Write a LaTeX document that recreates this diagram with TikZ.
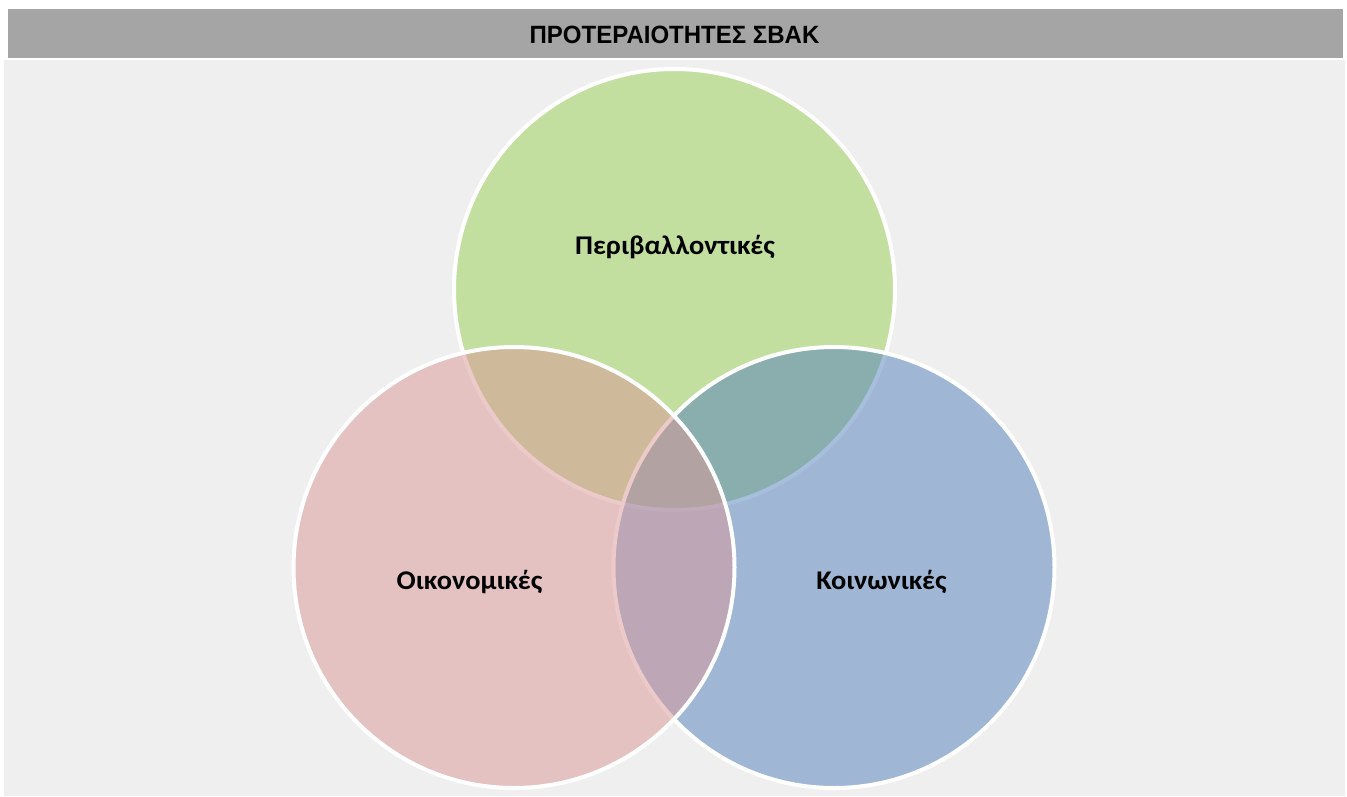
\documentclass[tikz,border=0pt]{standalone}
\usepackage{fontspec}
\setmainfont{Carlito}
\newfontfamily\lblfont[FakeStretch=1.05]{Carlito}
\newfontfamily\narrowfont[FakeStretch=0.96]{Liberation Sans}
\definecolor{hdr}{HTML}{A5A5A5}
\definecolor{bgc}{HTML}{EFEFEF}
\definecolor{cgreen}{RGB}{151,209,81}
\definecolor{cred}{RGB}{219,151,151}
\definecolor{cblue}{RGB}{81,127,187}
\begin{document}
\begin{tikzpicture}[x=1pt,y=-1pt,
  venn/.style={circle,inner sep=0pt,minimum size=441pt,draw=white,line width=4pt,fill opacity=0.5},
  lbl/.style={font=\lblfont\fontsize{27}{30}\selectfont\bfseries,text=black}]
\useasboundingbox (0,0) rectangle (1347,796);
\fill[white] (0,0) rectangle (1347,796);
\fill[bgc] (4,60) rectangle (1345,796);
\node[fill=hdr,minimum width=1335pt,minimum height=49pt,inner sep=0pt,anchor=north west] (header) at (8,9) {};
\node[font=\narrowfont\fontsize{25}{28}\selectfont\bfseries] (title) at (674.5,35) {ΠΡΟΤΕΡΑΙΟΤΗΤΕΣ ΣΒΑΚ};
\node[venn,fill=cgreen] (env) at (674.5,289.5) {};
\node[venn,fill=cblue] (soc) at (834,567.5) {};
\node[venn,fill=cred] (eco) at (514,567.5) {};
\node[lbl] (lenv) at (675,247) {Περιβαλλοντικές};
\node[lbl] (leco) at (469.5,582) {Οικονομικές};
\node[lbl] (lsoc) at (881.5,582) {Κοινωνικές};
\end{tikzpicture}
\end{document}
